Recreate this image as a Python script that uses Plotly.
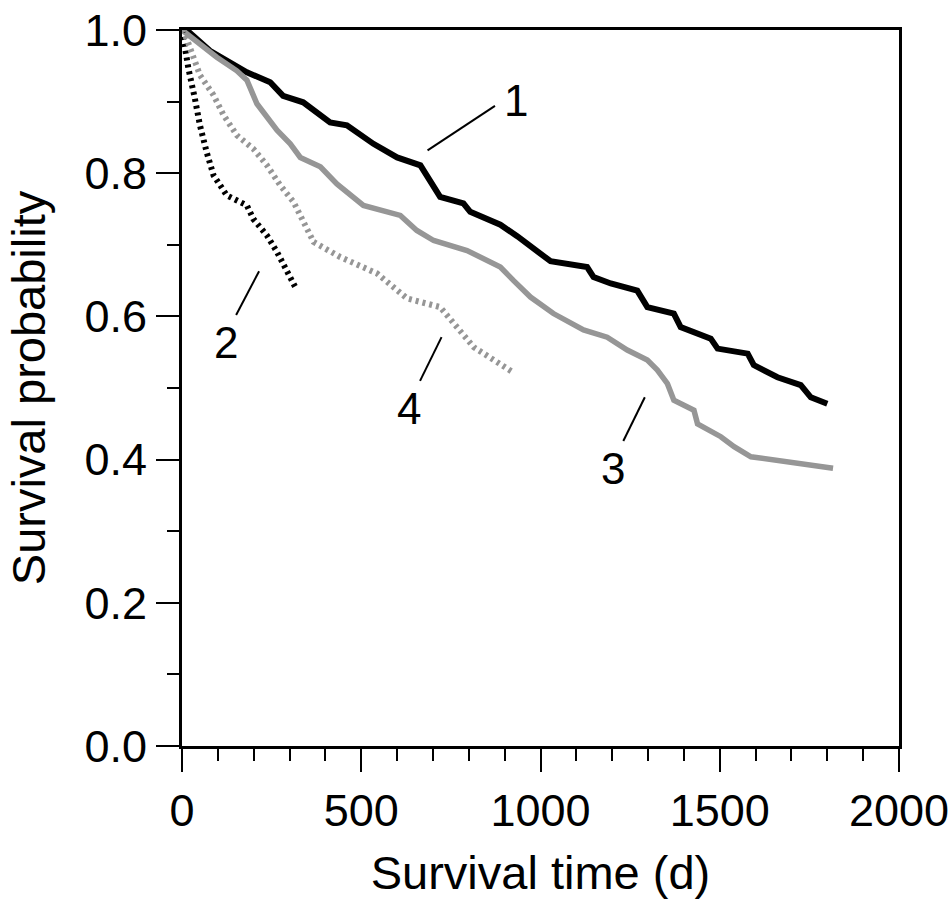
import plotly.graph_objects as go

# ---- data ----
curve1_t = [0, 13, 78, 134, 181, 246, 282, 338, 413, 460, 534, 600, 665, 720, 785, 804, 888, 935,
            1028, 1130, 1148, 1196, 1270, 1298, 1372, 1391, 1475, 1494, 1578, 1595, 1661, 1726, 1754, 1800]
curve1_s = [1.0, 1.0, 0.971, 0.955, 0.941, 0.927, 0.908, 0.899, 0.871, 0.867, 0.841, 0.822, 0.811, 0.767,
            0.758, 0.746, 0.728, 0.712, 0.677, 0.669, 0.655, 0.646, 0.636, 0.613, 0.604, 0.585, 0.569,
            0.555, 0.548, 0.532, 0.515, 0.504, 0.487, 0.478]

curve2_t = [0, 8, 18, 36, 50, 69, 88, 125, 181, 199, 237, 265, 293, 318]
curve2_s = [1.0, 0.969, 0.946, 0.904, 0.867, 0.829, 0.797, 0.769, 0.755, 0.736, 0.713, 0.690, 0.662, 0.639]

curve3_t = [0, 13, 97, 153, 181, 209, 265, 302, 330, 386, 432, 506, 609, 655, 702, 795, 888, 925, 972,
            1036, 1120, 1186, 1242, 1298, 1326, 1354, 1372, 1428, 1438, 1503, 1540, 1587, 1816]
curve3_s = [1.0, 0.995, 0.962, 0.943, 0.930, 0.897, 0.860, 0.841, 0.822, 0.809, 0.785, 0.755, 0.741,
            0.720, 0.706, 0.692, 0.669, 0.650, 0.627, 0.604, 0.581, 0.571, 0.553, 0.539, 0.525, 0.506,
            0.483, 0.469, 0.450, 0.432, 0.418, 0.404, 0.388]

curve4_t = [0, 13, 50, 88, 116, 153, 199, 237, 274, 311, 367, 441, 544, 628, 720, 758, 814, 920]
curve4_s = [1.0, 0.988, 0.937, 0.909, 0.881, 0.853, 0.834, 0.811, 0.783, 0.760, 0.704, 0.683, 0.660,
            0.625, 0.613, 0.590, 0.557, 0.523]

# curve labels and their leader lines (data coordinates)
label_text = ["1", "2", "3", "4"]
label_t = [932, 124, 1203, 633]
label_s = [0.902, 0.563, 0.388, 0.472]
leader_t0 = [685, 151, 1231, 664]
leader_s0 = [0.832, 0.602, 0.426, 0.510]
leader_t1 = [873, 215, 1291, 724]
leader_s1 = [0.894, 0.663, 0.487, 0.571]

x_ticks = [0, 500, 1000, 1500, 2000]
y_ticks = [0.0, 0.2, 0.4, 0.6, 0.8, 1.0]
y_ticklabels = ["0.0", "0.2", "0.4", "0.6", "0.8", "1.0"]

FONT = "Liberation Sans, Arial, sans-serif"
GRAY = "#969696"

fig = go.Figure()
fig.add_trace(go.Scatter(x=curve1_t, y=curve1_s, mode="lines",
                         line=dict(color="black", width=6), showlegend=False))
fig.add_trace(go.Scatter(x=curve3_t, y=curve3_s, mode="lines",
                         line=dict(color=GRAY, width=5.5), showlegend=False))
fig.add_trace(go.Scatter(x=curve2_t, y=curve2_s, mode="lines",
                         line=dict(color="black", width=6, dash="3px,4px"), showlegend=False))
fig.add_trace(go.Scatter(x=curve4_t, y=curve4_s, mode="lines",
                         line=dict(color=GRAY, width=6, dash="3px,4px"), showlegend=False))

for i in range(len(label_text)):
    fig.add_shape(type="line", xref="x", yref="y",
                  x0=leader_t0[i], y0=leader_s0[i], x1=leader_t1[i], y1=leader_s1[i],
                  line=dict(color="black", width=2))
    fig.add_annotation(x=label_t[i], y=label_s[i], text=label_text[i], showarrow=False,
                       xref="x", yref="y", font=dict(family=FONT, size=44, color="black"))

axis_common = dict(showline=True, linecolor="black", linewidth=3, mirror=True,
                   showgrid=False, zeroline=False, ticks="outside", ticklen=23,
                   tickwidth=2, tickcolor="black", automargin=False,
                   ticklabeloverflow="allow",
                   tickfont=dict(family=FONT, size=45, color="black"))

fig.update_xaxes(range=[0, 2000], tickvals=x_ticks, ticktext=[str(v) for v in x_ticks],
                 minor=dict(dtick=100, ticklen=12, tickwidth=2, tickcolor="black", ticks="outside"),
                 title=dict(text="Survival time (d)", font=dict(family=FONT, size=47, color="black"),
                            standoff=22),
                 **axis_common)
fig.update_yaxes(range=[0, 1], tickvals=y_ticks, ticktext=y_ticklabels,
                 minor=dict(dtick=0.1, ticklen=12, tickwidth=2, tickcolor="black", ticks="outside"),
                 title=dict(text="Survival probability", font=dict(family=FONT, size=47, color="black"),
                            standoff=24),
                 **axis_common)

fig.update_layout(width=952, height=907, margin=dict(l=182, r=53, t=30, b=161),
                  plot_bgcolor="white", paper_bgcolor="white",
                  font=dict(family=FONT, color="black"))

fig.write_html("out.html", config={"displayModeBar": False},
               post_script="document.body.style.margin='0px';document.body.style.overflow='hidden';")
